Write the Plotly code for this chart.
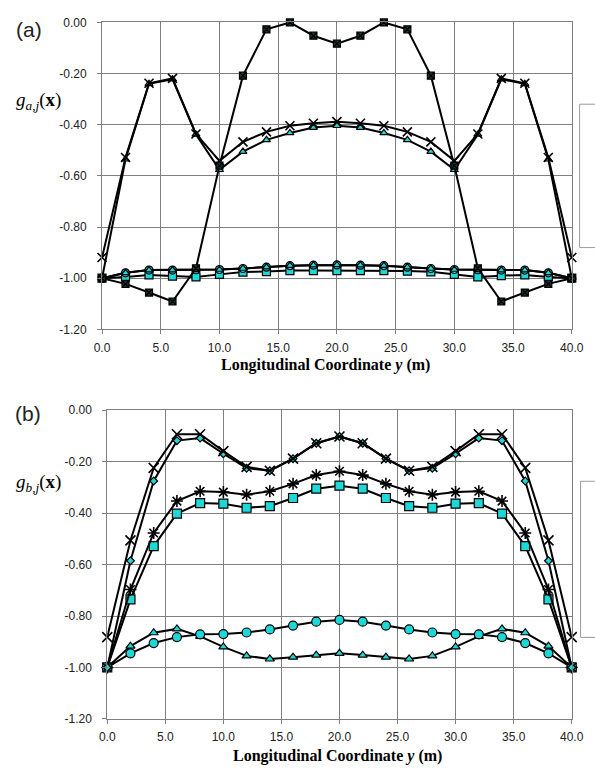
import plotly.graph_objects as go

W, H = 595, 775

# ---------------- data ----------------
y_pos = [0, 2, 4, 6, 8, 10, 12, 14, 16, 18, 20, 22, 24, 26, 28, 30, 32, 34, 36, 38, 40]

# panel (a)
a_dark = [-1.00, -1.022, -1.056, -1.091, -0.961, -0.560, -0.208, -0.027, 0.000, -0.052, -0.083,
          -0.052, 0.000, -0.027, -0.208, -0.560, -0.961, -1.091, -1.056, -1.022, -1.00]
a_cross = [-0.919, -0.528, -0.238, -0.219, -0.436, -0.541, -0.467, -0.428, -0.404, -0.394, -0.388,
           -0.394, -0.404, -0.428, -0.467, -0.541, -0.436, -0.219, -0.238, -0.528, -0.919]
a_tri = [-1.00, -0.535, -0.240, -0.222, -0.438, -0.576, -0.505, -0.459, -0.432, -0.411, -0.404,
         -0.411, -0.432, -0.459, -0.505, -0.576, -0.438, -0.222, -0.240, -0.535, -1.00]
a_circ = [-1.00, -0.979, -0.968, -0.968, -0.967, -0.966, -0.962, -0.957, -0.951, -0.949, -0.948,
          -0.949, -0.951, -0.957, -0.962, -0.966, -0.967, -0.968, -0.968, -0.979, -1.00]
a_sq = [-1.00, -0.995, -0.987, -0.992, -0.995, -0.985, -0.976, -0.974, -0.970, -0.970, -0.970,
        -0.970, -0.970, -0.972, -0.975, -0.985, -0.995, -0.990, -0.987, -0.995, -1.00]

# panel (b)
b_cross = [-0.882, -0.506, -0.224, -0.093, -0.093, -0.159, -0.220, -0.235, -0.188, -0.128, -0.102,
           -0.128, -0.188, -0.235, -0.220, -0.159, -0.093, -0.093, -0.224, -0.506, -0.882]
b_dia = [-1.00, -0.585, -0.275, -0.118, -0.108, -0.169, -0.225, -0.235, -0.188, -0.128, -0.102,
         -0.128, -0.188, -0.235, -0.225, -0.169, -0.108, -0.118, -0.275, -0.585, -1.00]
b_ast = [-1.00, -0.697, -0.477, -0.353, -0.315, -0.318, -0.328, -0.315, -0.286, -0.252, -0.237,
         -0.252, -0.286, -0.315, -0.328, -0.318, -0.315, -0.353, -0.477, -0.697, -1.00]
b_sq = [-1.00, -0.735, -0.528, -0.402, -0.361, -0.363, -0.379, -0.373, -0.341, -0.305, -0.293,
        -0.305, -0.341, -0.373, -0.379, -0.363, -0.361, -0.402, -0.528, -0.735, -1.00]
b_circ = [-1.00, -0.945, -0.905, -0.882, -0.871, -0.870, -0.864, -0.852, -0.837, -0.822, -0.815,
          -0.822, -0.837, -0.852, -0.864, -0.870, -0.871, -0.882, -0.905, -0.945, -1.00]
b_tri = [-1.00, -0.917, -0.865, -0.850, -0.879, -0.920, -0.955, -0.967, -0.960, -0.952, -0.945,
         -0.952, -0.960, -0.967, -0.955, -0.920, -0.879, -0.850, -0.865, -0.917, -1.00]

x_tickvals = [0, 5, 10, 15, 20, 25, 30, 35, 40]
x_ticktext = ["0.0", "5.0", "10.0", "15.0", "20.0", "25.0", "30.0", "35.0", "40.0"]
y_tickvals = [0, -0.2, -0.4, -0.6, -0.8, -1.0, -1.2]
y_ticktext = ["0.00", "-0.20", "-0.40", "-0.60", "-0.80", "-1.00", "-1.20"]

x_title = "<b>Longitudinal Coordinate <i>y</i> (m)</b>"
ya_title = "<i>g</i><sub><i>a</i>,<i>j</i></sub>(<b>x</b>)"
yb_title = "<i>g</i><sub><i>b</i>,<i>j</i></sub>(<b>x</b>)"

# ---------------- style ----------------
CYAN = "#1ED8D8"
DARK = "#1F3535"
GRID = "#7F7F7F"
SANS = "Liberation Sans, Arial, sans-serif"
SERIF = "Liberation Serif, Times New Roman, serif"


def px_x(p):
    return p / W


def px_y(p):
    return 1 - p / H


fig = go.Figure()


def add(xs, ys, symbol, size, fill, axes, lw=1.2):
    xa, ya = axes
    fig.add_trace(go.Scatter(
        x=xs, y=ys, mode="lines+markers", xaxis=xa, yaxis=ya,
        line=dict(color="black", width=2),
        marker=dict(symbol=symbol, size=size, color=fill,
                    line=dict(color="black", width=lw)),
        cliponaxis=False, showlegend=False, hoverinfo="skip"))


A = ("x", "y")
B = ("x2", "y2")

# panel (a)
add(y_pos, a_sq, "square", 8, CYAN, A)
add(y_pos, a_circ, "circle", 8, CYAN, A)
add(y_pos, a_circ, "triangle-up", 7, CYAN, A)
add(y_pos, a_tri, "triangle-up", 7, CYAN, A)
add(y_pos, a_cross, "x-thin", 9, "black", A, lw=1.6)
add(y_pos, a_dark, "square-x", 7, DARK, A)

# panel (b)
add(y_pos, b_tri, "triangle-up", 8, CYAN, B)
add(y_pos, b_circ, "circle", 9, CYAN, B)
add(y_pos, b_sq, "square", 9, CYAN, B)
add(y_pos, b_ast, "asterisk-open", 10, "black", B, lw=1.6)
add(y_pos, b_dia, "diamond", 6, CYAN, B)
add(y_pos, b_cross, "x-thin", 10, "black", B, lw=1.6)

axis_common = dict(
    showgrid=True, gridcolor=GRID, gridwidth=1,
    showline=True, linecolor=GRID, linewidth=1, mirror=True,
    ticks="outside", ticklen=4, tickcolor=GRID, zeroline=False,
    ticklabeloverflow="allow",
    tickfont=dict(family=SANS, size=12, color="#222222"),
)

fig.update_layout(
    width=W, height=H, margin=dict(l=0, r=0, t=0, b=0),
    paper_bgcolor="white", plot_bgcolor="white",
    xaxis=dict(domain=[px_x(97.3), px_x(583.4)], anchor="y", range=[0, 40],
               tickvals=x_tickvals, ticktext=x_ticktext, ticklabelstandoff=3, **axis_common),
    yaxis=dict(domain=[px_y(328.3), px_y(15.7)], anchor="x", range=[-1.2, 0],
               tickvals=y_tickvals, ticktext=y_ticktext, ticklabelstandoff=8, **axis_common),
    xaxis2=dict(domain=[px_x(102.7), px_x(583.3)], anchor="y2", range=[0, 40],
                tickvals=x_tickvals, ticktext=x_ticktext, ticklabelstandoff=3, **axis_common),
    yaxis2=dict(domain=[px_y(725), px_y(410.7)], anchor="x2", range=[-1.2, 0],
                tickvals=y_tickvals, ticktext=y_ticktext, ticklabelstandoff=8, **axis_common),
)

ann = []
ann.append(dict(text="(a)", x=px_x(22), y=px_y(23), font=dict(family=SANS, size=21, color="#222")))
ann.append(dict(text="(b)", x=px_x(21), y=px_y(414), font=dict(family=SANS, size=21, color="#222")))
ann.append(dict(text=ya_title, x=px_x(32), y=px_y(96), font=dict(family=SERIF, size=19, color="black")))
ann.append(dict(text=yb_title, x=px_x(32), y=px_y(485), font=dict(family=SERIF, size=19, color="black")))
ann.append(dict(text=x_title, x=px_x(328.5), y=px_y(365), font=dict(family=SERIF, size=16, color="black")))
ann.append(dict(text=x_title, x=px_x(340.5), y=px_y(762.7), font=dict(family=SERIF, size=16, color="black")))
for a in ann:
    a.update(xref="paper", yref="paper", showarrow=False, xanchor="center", yanchor="middle")
fig.update_layout(annotations=ann)

# legend boxes cut off at the right edge
fig.add_shape(type="rect", xref="paper", yref="paper",
              x0=px_x(591.5), x1=px_x(640), y0=px_y(245), y1=px_y(99),
              line=dict(color="#9A9A9A", width=1), fillcolor="rgba(0,0,0,0)")
fig.add_shape(type="rect", xref="paper", yref="paper",
              x0=px_x(592.5), x1=px_x(640), y0=px_y(642), y1=px_y(483),
              line=dict(color="#9A9A9A", width=1), fillcolor="rgba(0,0,0,0)")

fig.write_html("out.html")
